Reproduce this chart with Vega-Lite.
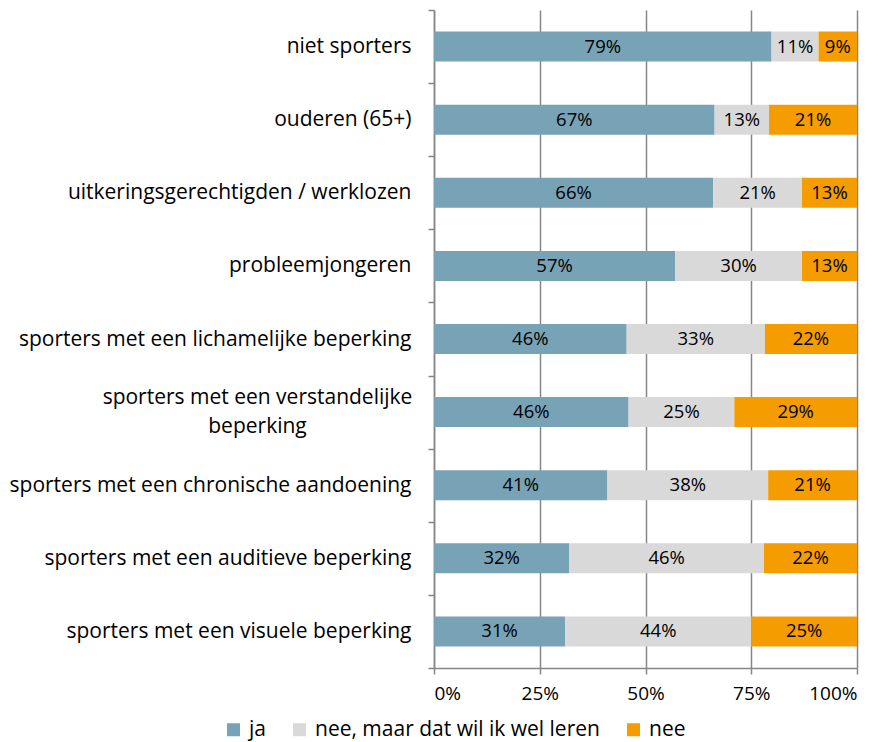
{
  "$schema": "https://vega.github.io/schema/vega-lite/v6.json",
  "width": 423,
  "height": 658,
  "autosize": {"type": "none"},
  "padding": {"left": 434, "top": 10, "right": 27, "bottom": 74},
  "background": "white",
  "config": {
    "font": "Open Sans",
    "view": {"stroke": null}
  },
  "data": {
    "values": [
      {"groep": "niet sporters", "antwoord": "ja", "k": 1, "p": 0.79},
      {"groep": "niet sporters", "antwoord": "nee, maar dat wil ik wel leren", "k": 2, "p": 0.11},
      {"groep": "niet sporters", "antwoord": "nee", "k": 3, "p": 0.09},
      {"groep": "ouderen (65+)", "antwoord": "ja", "k": 1, "p": 0.67},
      {"groep": "ouderen (65+)", "antwoord": "nee, maar dat wil ik wel leren", "k": 2, "p": 0.13},
      {"groep": "ouderen (65+)", "antwoord": "nee", "k": 3, "p": 0.21},
      {"groep": "uitkeringsgerechtigden / werklozen", "antwoord": "ja", "k": 1, "p": 0.66},
      {"groep": "uitkeringsgerechtigden / werklozen", "antwoord": "nee, maar dat wil ik wel leren", "k": 2, "p": 0.21},
      {"groep": "uitkeringsgerechtigden / werklozen", "antwoord": "nee", "k": 3, "p": 0.13},
      {"groep": "probleemjongeren", "antwoord": "ja", "k": 1, "p": 0.57},
      {"groep": "probleemjongeren", "antwoord": "nee, maar dat wil ik wel leren", "k": 2, "p": 0.30},
      {"groep": "probleemjongeren", "antwoord": "nee", "k": 3, "p": 0.13},
      {"groep": "sporters met een lichamelijke beperking", "antwoord": "ja", "k": 1, "p": 0.46},
      {"groep": "sporters met een lichamelijke beperking", "antwoord": "nee, maar dat wil ik wel leren", "k": 2, "p": 0.33},
      {"groep": "sporters met een lichamelijke beperking", "antwoord": "nee", "k": 3, "p": 0.22},
      {"groep": "sporters met een verstandelijke beperking", "antwoord": "ja", "k": 1, "p": 0.46},
      {"groep": "sporters met een verstandelijke beperking", "antwoord": "nee, maar dat wil ik wel leren", "k": 2, "p": 0.25},
      {"groep": "sporters met een verstandelijke beperking", "antwoord": "nee", "k": 3, "p": 0.29},
      {"groep": "sporters met een chronische aandoening", "antwoord": "ja", "k": 1, "p": 0.41},
      {"groep": "sporters met een chronische aandoening", "antwoord": "nee, maar dat wil ik wel leren", "k": 2, "p": 0.38},
      {"groep": "sporters met een chronische aandoening", "antwoord": "nee", "k": 3, "p": 0.21},
      {"groep": "sporters met een auditieve beperking", "antwoord": "ja", "k": 1, "p": 0.32},
      {"groep": "sporters met een auditieve beperking", "antwoord": "nee, maar dat wil ik wel leren", "k": 2, "p": 0.46},
      {"groep": "sporters met een auditieve beperking", "antwoord": "nee", "k": 3, "p": 0.22},
      {"groep": "sporters met een visuele beperking", "antwoord": "ja", "k": 1, "p": 0.31},
      {"groep": "sporters met een visuele beperking", "antwoord": "nee, maar dat wil ik wel leren", "k": 2, "p": 0.44},
      {"groep": "sporters met een visuele beperking", "antwoord": "nee", "k": 3, "p": 0.25}
    ]
  },
  "encoding": {
    "y": {
      "field": "groep",
      "type": "nominal",
      "sort": null,
      "scale": {"paddingInner": 0, "paddingOuter": 0},
      "axis": {
        "title": null,
        "domainColor": "#868686",
        "domainWidth": 1.5,
        "tickColor": "#868686",
        "tickWidth": 1.5,
        "tickSize": 6,
        "tickBand": "extent",
        "labelFontSize": 21,
        "labelColor": "#000000",
        "labelPadding": {"condition": {"test": "datum.value == 'sporters met een verstandelijke beperking'", "value": 171}, "value": 17},
        "labelAlign": {"condition": {"test": "datum.value == 'sporters met een verstandelijke beperking'", "value": "center"}, "value": "right"},
        "labelOffset": {"condition": {"test": "datum.value == 'sporters met een verstandelijke beperking'", "value": -14.5}, "value": 0},
        "labelLimit": 0,
        "labelLineHeight": 29,
        "labelExpr": "datum.label == 'sporters met een verstandelijke beperking' ? ['sporters met een verstandelijke', 'beperking'] : datum.label"
      }
    },
    "x": {
      "field": "p",
      "type": "quantitative",
      "stack": "normalize",
      "scale": {"domain": [0, 1], "nice": false},
      "axis": {
        "title": null,
        "values": [0, 0.25, 0.5, 0.75, 1],
        "format": ".0%",
        "grid": true,
        "gridColor": "#868686",
        "gridWidth": 1.5,
        "domainColor": "#868686",
        "domainWidth": 1.5,
        "tickColor": "#868686",
        "tickWidth": 1.5,
        "tickSize": 6,
        "labelFontSize": 19,
        "labelColor": "#000000",
        "labelPadding": 10
      }
    },
    "order": {"field": "k", "type": "quantitative"}
  },
  "layer": [
    {
      "mark": {"type": "bar", "height": {"band": 0.41}},
      "encoding": {
        "color": {
          "field": "antwoord",
          "type": "nominal",
          "scale": {
            "domain": ["ja", "nee, maar dat wil ik wel leren", "nee"],
            "range": ["#78A2B5", "#D9D9D9", "#F59D00"]
          },
          "legend": {
            "title": null,
            "orient": "none",
            "direction": "horizontal",
            "legendX": -211,
            "legendY": 709,
            "padding": 0,
            "symbolType": "square",
            "symbolSize": 169,
            "symbolStrokeWidth": 0,
            "symbolOpacity": 1,
            "labelFontSize": 21,
            "labelColor": "#000000",
            "labelOffset": 5,
            "columnPadding": 23,
            "labelLimit": 0
          }
        }
      }
    },
    {
      "mark": {"type": "text", "fontSize": 18.5, "color": "#000000"},
      "encoding": {
        "x": {"field": "p", "type": "quantitative", "stack": "normalize", "bandPosition": 0.5},
        "text": {"field": "p", "type": "quantitative", "format": ".0%"}
      }
    }
  ]
}
